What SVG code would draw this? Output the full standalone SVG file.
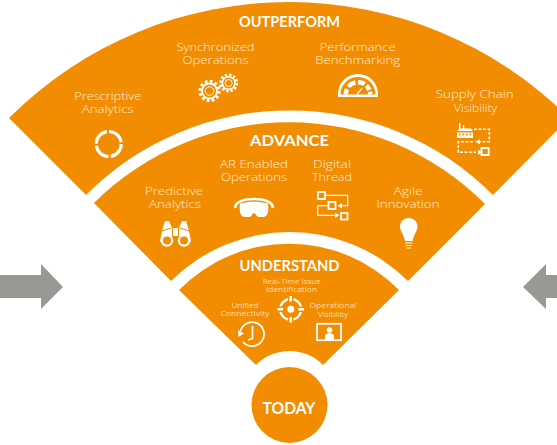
<svg xmlns="http://www.w3.org/2000/svg" width="557" height="445" viewBox="0 0 557 445">
<style>
.band{fill:#f28c00}
.arrow{fill:#979a94}
.t{font-family:"Open Sans","Liberation Sans",sans-serif;font-weight:300;fill:#fff0dc;text-anchor:middle;font-size:11.500px}
.s{font-size:7.500px;font-weight:400;fill:#fbdcb0}
.h{font-family:"Lato","Liberation Sans",sans-serif;font-weight:700;fill:#fff;text-anchor:middle;font-size:15.500px}
.i{fill:none;stroke:#fff;stroke-width:1.6}
.w{fill:#fff}
.o{fill:#f28c00}
</style>
<rect width="557" height="445" fill="#fff"/>
<g id="arrow-left"><path class="arrow" d="M0 275H41V264L63 287L41 309V298H0Z"/></g>
<g id="arrow-right"><path class="arrow" d="M557 275H546V264L523 287L546 309V298H557Z"/></g>
<g id="outperform">
<path class="band" d="M9 118A396 396 0 0 1 569 118L493 195A287 287 0 0 0 86 195Z"/>
<text class="h" x="289.500" y="27" textLength="101" lengthAdjust="spacingAndGlyphs">OUTPERFORM</text>
<text class="t"><tspan x="215.500" y="51" textLength="78" lengthAdjust="spacingAndGlyphs">Synchronized</tspan><tspan x="215.500" y="64" textLength="66" lengthAdjust="spacingAndGlyphs">Operations</tspan></text>
<text class="t"><tspan x="357.700" y="51" textLength="76" lengthAdjust="spacingAndGlyphs">Performance</tspan><tspan x="357.700" y="64" textLength="85" lengthAdjust="spacingAndGlyphs">Benchmarking</tspan></text>
<text class="t"><tspan x="107.700" y="100" textLength="67" lengthAdjust="spacingAndGlyphs">Prescriptive</tspan><tspan x="107.700" y="113" textLength="52" lengthAdjust="spacingAndGlyphs">Analytics</tspan></text>
<text class="t"><tspan x="474.700" y="98" textLength="78" lengthAdjust="spacingAndGlyphs">Supply Chain</tspan><tspan x="475.500" y="112" textLength="43" lengthAdjust="spacingAndGlyphs">Visibility</tspan></text>
<circle class="i" cx="108.700" cy="144" r="12.500" style="stroke-width:3.200" stroke-dasharray="17.500 2.100"/>
<g class="i">
<circle cx="209.500" cy="91" r="9.500" style="stroke-width:3.400" stroke-dasharray="2.700 2.270"/>
<circle cx="209.500" cy="91" r="7.500" style="stroke-width:1.800"/>
<circle cx="209.500" cy="91" r="4.300" style="stroke-width:1"/>
<circle cx="228.700" cy="83" r="8" style="stroke-width:3" stroke-dasharray="2.400 1.790"/>
<circle cx="228.700" cy="83" r="6.300" style="stroke-width:1.500"/>
<circle cx="228.700" cy="83" r="3.500" style="stroke-width:1"/>
</g>
<g>
<path class="w" d="M338 97V94A20 20 0 0 1 378 94V97Z"/>
<path class="o" d="M340.500 94.500A17.500 17.500 0 0 1 375.500 94.500Z"/>
<path class="w" d="M343.500 94.500A14.500 14.500 0 0 1 345 88L349 90A10 10 0 0 0 348 94.500ZM346.500 85.500A14.500 14.500 0 0 1 355 80.300L356 84.800A10 10 0 0 0 350 88ZM358 80A14.500 14.500 0 0 1 366 82.300L363.500 86A10 10 0 0 0 358 84.500ZM368 84A14.500 14.500 0 0 1 371.500 89L367 91A10 10 0 0 0 365 87ZM372 91A14.500 14.500 0 0 1 372.500 94.500H368A10 10 0 0 0 367.800 92.500Z"/>
<path d="M357 94L362 88.500" stroke="#fff" stroke-width="1.400"/>
</g>
<g>
<path class="w" d="M457 138V132.500H473V138ZM457 131L460 128.500H471L473 131Z"/>
<path class="w" d="M459 129V123H460.500V129ZM463 129V125H464.300V129Z"/>
<path class="o" d="M459 133.500h1.500v2h-1.500zM462.500 133.500h1.500v2h-1.500zM466 133.500h1.500v2h-1.500zM469.500 133.500h1.500v2h-1.500z"/>
<path class="i" d="M474 129.300H489.300V141.700H478M473 141.700H458.300V152.300H476" stroke-dasharray="3 1.500"/>
<path class="w" d="M480 139.200L475 141.700L480 144.200ZM478 149.800L478 154.800L482.500 152.300Z"/>
<rect class="i" x="481.500" y="148" width="7.200" height="7" style="stroke-width:1.900"/>
</g>
</g>
<g id="advance">
<path class="band" d="M94 203A276 276 0 0 1 485 204L408 281A168 168 0 0 0 171 281Z"/>
<text class="h" x="289.500" y="146" textLength="79" lengthAdjust="spacingAndGlyphs">ADVANCE</text>
<text class="t"><tspan x="254" y="168" textLength="68" lengthAdjust="spacingAndGlyphs">AR Enabled</tspan><tspan x="254" y="181" textLength="66" lengthAdjust="spacingAndGlyphs">Operations</tspan></text>
<text class="t"><tspan x="332" y="168" textLength="38" lengthAdjust="spacingAndGlyphs">Digital</tspan><tspan x="332" y="181" textLength="40" lengthAdjust="spacingAndGlyphs">Thread</tspan></text>
<text class="t"><tspan x="174" y="195" textLength="58" lengthAdjust="spacingAndGlyphs">Predictive</tspan><tspan x="175" y="208" textLength="52" lengthAdjust="spacingAndGlyphs">Analytics</tspan></text>
<text class="t"><tspan x="408" y="195" textLength="29" lengthAdjust="spacingAndGlyphs">Agile</tspan><tspan x="408" y="208" textLength="63" lengthAdjust="spacingAndGlyphs">Innovation</tspan></text>
<g>
<path class="w" d="M160 241L163 227L165 221L169 221L172 228L172 237L164 246ZM191 241L188 227L186 221L182 221L179 228L179 237L187 246Z"/>
<rect class="w" x="173" y="228" width="5" height="8"/>
<circle class="w" cx="167" cy="240.500" r="6.200"/><circle class="w" cx="184" cy="240.500" r="6.200"/>
<circle class="o" cx="167" cy="240.500" r="4"/><circle class="o" cx="184" cy="240.500" r="4"/>
<path d="M162 231L171 228M180 228L189 231" stroke="#f28c00" stroke-width="1"/>
</g>
<g>
<path class="i" d="M235.500 208C233 196 275 196 272.500 208" style="stroke-width:2.600"/>
<path class="w" d="M240 203.500C250 201 258 201 268 203.500C269 210 268 216 264 217H259C256 217 256 213 254 213C252 213 252 217 249 217H244C240 216 239 210 240 203.500Z"/>
</g>
<g>
<rect class="i" x="318" y="192" width="7" height="7" style="stroke-width:1.800"/>
<rect class="i" x="328.500" y="202" width="7" height="7" style="stroke-width:1.800"/>
<rect class="i" x="341" y="213" width="6.500" height="6.500" style="stroke-width:1.800"/>
<path class="i" d="M325 195.300H347.700V205.700H340M328 205.700H317.700V215.300H336" style="stroke-width:1.200"/>
<path class="w" d="M342 203L337.500 205.700L342 208.400ZM335 212.700L339.500 215.300L335 218Z"/>
</g>
<g>
<path class="w" d="M408.700 218C403.500 218 400 222 400 226.500C400 231 403.500 234 405 241H412.500C414 234 417.500 231 417.500 226.500C417.500 222 414 218 408.700 218Z"/>
<path d="M405 243H412.500M405.500 245.500H412M406.500 248H411" stroke="#fff" stroke-width="1.200"/>
</g>
</g>
<g id="understand">
<path class="band" d="M179 290A154 154 0 0 1 399 290L323 365A47 47 0 0 0 256 365Z"/>
<text class="h" x="289.500" y="271" textLength="100" lengthAdjust="spacingAndGlyphs">UNDERSTAND</text>
<text class="t s"><tspan x="291.700" y="284" textLength="58" lengthAdjust="spacingAndGlyphs">Real-Time Issue</tspan><tspan x="291.500" y="292" textLength="51" lengthAdjust="spacingAndGlyphs">Identification</tspan></text>
<text class="t s"><tspan x="245" y="308" textLength="27" lengthAdjust="spacingAndGlyphs">Unified</tspan><tspan x="245" y="316" textLength="49" lengthAdjust="spacingAndGlyphs">Connectivity</tspan></text>
<text class="t s"><tspan x="333" y="308" textLength="47" lengthAdjust="spacingAndGlyphs">Operational</tspan><tspan x="333" y="317" textLength="30" lengthAdjust="spacingAndGlyphs">Visibility</tspan></text>
<g>
<circle class="i" cx="290.700" cy="309.300" r="10.500" style="stroke-width:2.200"/>
<circle class="w" cx="290.700" cy="309.300" r="3.500"/>
<path d="M290.700 296V302M290.700 316.600V322.600M277.400 309.300H283.400M298 309.300H304" stroke="#f28c00" stroke-width="5.500"/>
<path d="M290.700 296V301.500M290.700 317V322.600M277.400 309.300H283M298.400 309.300H304" stroke="#fff" stroke-width="2.600"/>
</g>
<g>
<path class="i" d="M240.500 331A12 12 0 1 1 243 342" style="stroke-width:1.800"/>
<path class="w" d="M238 330L244 333.500L238.500 337Z"/>
<path class="i" d="M252.500 326V338.500L248 340" style="stroke-width:1.600"/>
</g>
<g>
<rect class="i" x="317" y="323.800" width="24" height="16.400" style="stroke-width:1.800"/>
<path class="w" d="M325 340V335L328 333H331L334 335V340Z"/>
<circle class="w" cx="329.500" cy="330" r="2.800"/>
</g>
</g>
<g id="today">
<circle class="band" cx="289.500" cy="405" r="38"/>
<text class="h" x="289" y="414" style="font-size:17.500px" textLength="53" lengthAdjust="spacingAndGlyphs">TODAY</text>
</g>
</svg>
